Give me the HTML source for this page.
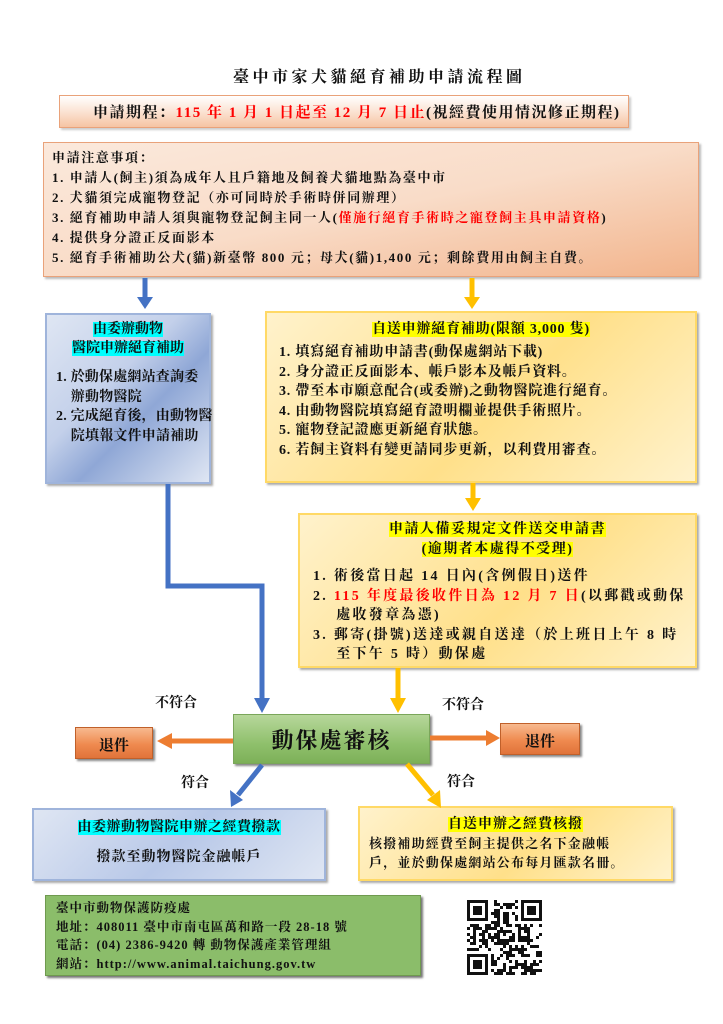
<!DOCTYPE html>
<html><head><meta charset="utf-8">
<style>
body{margin:0;width:723px;height:1024px;background:#fff;position:relative;overflow:hidden;font-family:"Liberation Serif","Noto Serif CJK SC",serif;font-weight:bold;color:#111}
.a{position:absolute;box-sizing:border-box}
.t{position:absolute;white-space:nowrap}
.r{color:#f00}
.hy{background:#ff0}
.hc{background:#0ff}
</style></head><body>
<div class="t" style="left:233px;top:64px;font-size:16px;letter-spacing:3.5px">臺中市家犬貓絕育補助申請流程圖</div>

<div class="a" style="left:59px;top:95px;width:570px;height:33px;border:1px solid #e9a27a;background:linear-gradient(#fff 0%,#fbe3d3 50%,#f6c4a3 100%);box-shadow:2px 2px 2px #ccc"></div>
<div class="t" style="left:93px;top:101px;font-size:15px;letter-spacing:1.5px">申請期程：<span class="r">115 年 1 月 1 日起至 12 月 7 日止</span>(視經費使用情況修正期程)</div>

<div class="a" style="left:43px;top:142px;width:656px;height:135px;border:1px solid #e9a27a;background:linear-gradient(to bottom right,#fbe9dc 0%,#f9dcc8 50%,#f2b48c 100%);box-shadow:2px 2px 2px #bbb"></div>
<div class="t" style="left:52px;top:148px;font-size:13px;line-height:20px;letter-spacing:1.6px">申請注意事項：<br>
1. 申請人(飼主)須為成年人且戶籍地及飼養犬貓地點為臺中市<br>
2. 犬貓須完成寵物登記（亦可同時於手術時併同辦理）<br>
3. 絕育補助申請人須與寵物登記飼主同一人(<span class="r">僅施行絕育手術時之寵登飼主具申請資格</span>)<br>
4. 提供身分證正反面影本<br>
5. 絕育手術補助公犬(貓)新臺幣 800 元；母犬(貓)1,400 元；剩餘費用由飼主自費。</div>

<!-- blue box -->
<div class="a" style="left:45px;top:313px;width:166px;height:171px;border:2px solid #9fb4db;background:linear-gradient(135deg,#dfe6f3 0%,#c3d0ea 40%,#8fa7d6 60%,#dfe6f3 100%);box-shadow:2px 2px 2px #aaa"></div>
<div class="t" style="left:45px;width:166px;top:320px;text-align:center;font-size:14px;line-height:19px"><span class="hc">由委辦動物</span><br><span class="hc">醫院申辦絕育補助</span></div>
<div class="t" style="left:56px;top:368px;font-size:14px;line-height:19.5px;letter-spacing:0.2px">1. 於動保處網站查詢委<br>&nbsp;&nbsp;&nbsp;&nbsp;辦動物醫院<br>2. 完成絕育後，由動物醫<br>&nbsp;&nbsp;&nbsp;&nbsp;院填報文件申請補助</div>

<!-- yellow box 1 -->
<div class="a" style="left:265px;top:311px;width:432px;height:172px;border:2px solid #ffd966;background:linear-gradient(135deg,#fff2cc 0%,#ffe08a 55%,#fff2cc 100%);box-shadow:2px 2px 2px #aaa"></div>
<div class="t" style="left:265px;width:432px;top:318px;text-align:center;font-size:14px;letter-spacing:0.8px"><span class="hy">自送申辦絕育補助(限額 3,000 隻)</span></div>
<div class="t" style="left:279px;top:343px;font-size:14px;line-height:19.5px;letter-spacing:0.8px">1. 填寫絕育補助申請書(動保處網站下載)<br>2. 身分證正反面影本、帳戶影本及帳戶資料。<br>3. 帶至本市願意配合(或委辦)之動物醫院進行絕育。<br>4. 由動物醫院填寫絕育證明欄並提供手術照片。<br>5. 寵物登記證應更新絕育狀態。<br>6. 若飼主資料有變更請同步更新，以利費用審查。</div>

<!-- yellow box 2 -->
<div class="a" style="left:298px;top:513px;width:399px;height:155px;border:2px solid #ffd966;background:linear-gradient(135deg,#fff2cc 0%,#ffe08a 55%,#fff2cc 100%);box-shadow:2px 2px 2px #aaa"></div>
<div class="t" style="left:298px;width:399px;top:520px;text-align:center;font-size:14px;line-height:20px;letter-spacing:1.5px"><span class="hy">申請人備妥規定文件送交申請書</span><br><span class="hy">(逾期者本處得不受理)</span></div>
<div class="t" style="left:313px;top:567px;font-size:14px;line-height:19.5px;letter-spacing:2.3px">1. 術後當日起 14 日內(含例假日)送件<br>2. <span class="r">115 年度最後收件日為 12 月 7 日</span>(以郵戳或動保<br>&nbsp;&nbsp;&nbsp;&nbsp;處收發章為憑)<br>3. 郵寄(掛號)送達或親自送達（於上班日上午 8 時<br>&nbsp;&nbsp;&nbsp;&nbsp;至下午 5 時）動保處</div>

<!-- center -->
<div class="a" style="left:233px;top:714px;width:197px;height:50px;border:1px solid #7aa65a;background:linear-gradient(#b7d79b,#8fc06c 60%,#7db058);box-shadow:2px 2px 2px #888"></div>
<div class="t" style="left:233px;width:197px;top:724px;text-align:center;font-size:22px;letter-spacing:2px">動保處審核</div>
<div class="a" style="left:75px;top:727px;width:78px;height:32px;border:1px solid #c0602a;background:linear-gradient(#f7b98f,#ef8a4f 55%,#e0733a);box-shadow:2px 2px 2px #888"></div>
<div class="t" style="left:75px;width:78px;top:734px;text-align:center;font-size:15px">退件</div>
<div class="a" style="left:500px;top:723px;width:80px;height:32px;border:1px solid #c0602a;background:linear-gradient(#f7b98f,#ef8a4f 55%,#e0733a);box-shadow:2px 2px 2px #888"></div>
<div class="t" style="left:500px;width:80px;top:730px;text-align:center;font-size:15px">退件</div>
<div class="t" style="left:155px;top:692px;font-size:14px">不符合</div>
<div class="t" style="left:442px;top:694px;font-size:14px">不符合</div>
<div class="t" style="left:181px;top:772px;font-size:14px">符合</div>
<div class="t" style="left:447px;top:771px;font-size:14px">符合</div>

<!-- bottom boxes -->
<div class="a" style="left:32px;top:808px;width:294px;height:73px;border:2px solid #9fb4db;background:linear-gradient(135deg,#dfe6f3 0%,#b8c8e8 50%,#dfe6f3 100%);box-shadow:2px 2px 2px #aaa"></div>
<div class="t" style="left:32px;width:294px;top:816px;text-align:center;font-size:14px;letter-spacing:0.5px"><span class="hc">由委辦動物醫院申辦之經費撥款</span></div>
<div class="t" style="left:32px;width:294px;top:846px;text-align:center;font-size:14px;letter-spacing:1px">撥款至動物醫院金融帳戶</div>

<div class="a" style="left:358px;top:806px;width:315px;height:75px;border:2px solid #ffd966;background:linear-gradient(135deg,#fff2cc 0%,#ffe08a 55%,#fff2cc 100%);box-shadow:2px 2px 2px #aaa"></div>
<div class="t" style="left:358px;width:315px;top:813px;text-align:center;font-size:14px;letter-spacing:1px"><span class="hy">自送申辦之經費核撥</span></div>
<div class="t" style="left:369px;top:834px;font-size:13px;line-height:19px;letter-spacing:1.2px">核撥補助經費至飼主提供之名下金融帳<br>戶，並於動保處網站公布每月匯款名冊。</div>

<div class="a" style="left:45px;top:895px;width:376px;height:81px;border:1px solid #6f9a4f;background:#8bbd6a;box-shadow:2px 2px 2px #777"></div>
<div class="t" style="left:56px;top:899px;font-size:12.5px;line-height:18.5px;letter-spacing:1px">臺中市動物保護防疫處<br>地址：408011 臺中市南屯區萬和路一段 28-18 號<br>電話：(04) 2386-9420 轉 動物保護產業管理組<br>網站：http://www.animal.taichung.gov.tw</div>

<svg class="a" style="left:0;top:0" width="723" height="1024">
<g fill="none" stroke-width="5">
<path d="M145 278V298" stroke="#4472c4"/>
<path d="M472 278V298" stroke="#ffc000"/>
<path d="M473 483V500" stroke="#ffc000"/>
<path d="M168 484V586H262V700" stroke="#4472c4"/>
<path d="M398 668V700" stroke="#ffc000"/>
<path d="M233 741H170" stroke="#ed7d31"/>
<path d="M430 738H488" stroke="#ed7d31"/>
<path d="M262 765L238 795" stroke="#4472c4"/>
<path d="M407 764L433 795" stroke="#ffc000"/>
</g>
<polygon points="137,297 153,297 145,309" fill="#4472c4"/>
<polygon points="464,297 480,297 472,309" fill="#ffc000"/>
<polygon points="465,498 481,498 473,511" fill="#ffc000"/>
<polygon points="254,698 270,698 262,713" fill="#4472c4"/>
<polygon points="390,698 406,698 398,713" fill="#ffc000"/>
<polygon points="172,733 172,749 157,741" fill="#ed7d31"/>
<polygon points="486,730 486,746 500,738" fill="#ed7d31"/>
<polygon points="230,790 243,800 231,807" fill="#4472c4"/>
<polygon points="427,800 440,790 441,808" fill="#ffc000"/>
<g id="qr" transform="translate(467,900)"></g>
</svg>
<script>
(function(){var g=document.getElementById('qr'),n=25,s=3,h='',x,y,seed=7;
function rnd(){seed=(seed*1103515245+12345)&0x7fffffff;return seed/0x7fffffff;}
function fin(a,b){return (a<7&&b<7)||(a>=n-7&&b<7)||(a<7&&b>=n-7);}
for(y=0;y<n;y++)for(x=0;x<n;x++){var on;
if(fin(x,y)){var cx=x<7?x:x-(n-7),cy=y<7?y:y-(n-7);on=(cx==0||cx==6||cy==0||cy==6)||(cx>=2&&cx<=4&&cy>=2&&cy<=4);}
else if((x==7&&y<8)||(y==7&&x<8)||(x==n-8&&y<8)||(y==7&&x>=n-8)||(x==7&&y>=n-8)||(y==n-8&&x<8))on=false;
else on=rnd()<0.5;
if(on)h+='<rect x="'+x*s+'" y="'+y*s+'" width="'+s+'" height="'+s+'" fill="#111"/>';}
g.innerHTML=h;})();
</script>
</body></html>
